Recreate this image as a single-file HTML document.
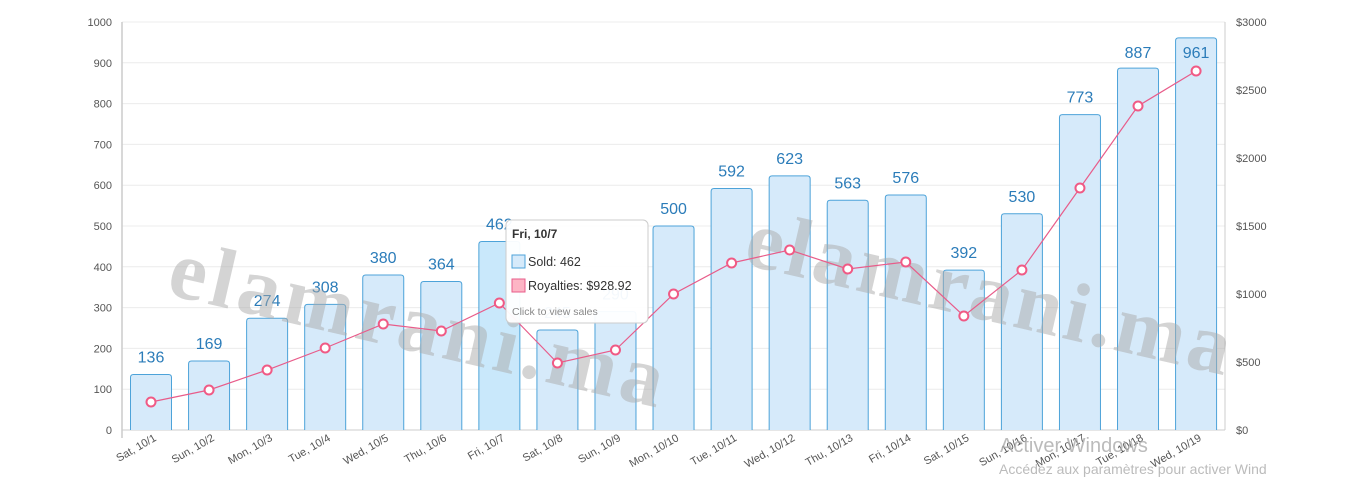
<!DOCTYPE html>
<html><head><meta charset="utf-8"><style>
html,body{margin:0;padding:0;background:#fff;width:1366px;height:494px;overflow:hidden}
svg{display:block;font-family:"Liberation Sans",sans-serif}
</style></head><body>
<svg id="s" width="1366" height="494" xmlns="http://www.w3.org/2000/svg"></svg>
<script>
var s=document.getElementById('s'),h='';
var T=22,B=430,L=122,R=1225;
for(var i=0;i<=10;i++){var y=B-i*40.8;
 h+='<line x1="'+L+'" x2="'+R+'" y1="'+y+'" y2="'+y+'" stroke="#ececec"/>';
 h+='<text x="112" y="'+(y+4)+'" font-size="11" fill="#555" text-anchor="end">'+(i*100)+'</text>';}
for(var i=0;i<=6;i++){var y=B-i*68;
 h+='<text x="1236" y="'+(y+4)+'" font-size="11" fill="#555">$'+(i==0?'0':(i*500))+'</text>';}
h+='<line x1="'+L+'" x2="'+L+'" y1="'+T+'" y2="438" stroke="#ccc" stroke-width="1.5"/>';
h+='<line x1="'+R+'" x2="'+R+'" y1="'+T+'" y2="430" stroke="#ccc"/>';
h+='<line x1="'+L+'" x2="'+R+'" y1="430" y2="430" stroke="#ccc"/>';
var v=[136,169,274,308,380,364,462,245,290,500,592,623,563,576,392,530,773,887,961];
var py=[402,390,370,348,324,331,303,363,350,294,263,250,269,262,316,270,188,106,71];
var lb=['Sat, 10/1','Sun, 10/2','Mon, 10/3','Tue, 10/4','Wed, 10/5','Thu, 10/6','Fri, 10/7','Sat, 10/8','Sun, 10/9','Mon, 10/10','Tue, 10/11','Wed, 10/12','Thu, 10/13','Fri, 10/14','Sat, 10/15','Sun, 10/16','Mon, 10/17','Tue, 10/18','Wed, 10/19'];
for(var i=0;i<19;i++){var x=151+i*58.06,y=B-v[i]*0.408;
 h+='<path d="M'+(x-20.5)+' 430 V'+(y+3)+' q0 -3 3 -3 h35 q3 0 3 3 V430" fill="'+(i==6?'#c9e8fb':'#d6eafa')+'" stroke="#4da3d9" stroke-width="1"/>';
 h+='<text x="'+x+'" y="'+Math.max(y-12,58)+'" font-size="16" fill="#2b7cb9" text-anchor="middle">'+v[i]+'</text>';
 h+='<text transform="translate('+(x+6)+',440) rotate(-30)" font-size="11" fill="#555" text-anchor="end">'+lb[i]+'</text>';}
h+='<text transform="translate(165,294) rotate(13)" font-family="Liberation Serif,serif" font-weight="bold" font-size="84" fill="#aaa" fill-opacity="0.5" letter-spacing="5">elamrani.ma</text>';
h+='<text transform="translate(742,264) rotate(13)" font-family="Liberation Serif,serif" font-weight="bold" font-size="84" fill="#aaa" fill-opacity="0.5" letter-spacing="4">elamrani.ma</text>';
var pts='';for(var i=0;i<19;i++)pts+=(151+i*58.06)+','+py[i]+' ';
h+='<polyline points="'+pts+'" fill="none" stroke="#e85c8a" stroke-width="1.2"/>';
for(var i=0;i<19;i++)h+='<circle cx="'+(151+i*58.06)+'" cy="'+py[i]+'" r="4.5" fill="#fff" stroke="#f05a85" stroke-width="2"/>';
h+='<rect x="506" y="220" width="142" height="103" rx="5" fill="#fff" fill-opacity="0.95" stroke="#ccc"/>';
h+='<text x="512" y="238" font-size="12" font-weight="bold" fill="#333">Fri, 10/7</text>';
h+='<rect x="512" y="255" width="13" height="13" fill="#d6eafa" stroke="#4da3d9"/><text x="528" y="266" font-size="12.5" fill="#333">Sold: 462</text>';
h+='<rect x="512" y="279" width="13" height="13" fill="#fdb5c5" stroke="#e85c8a"/><text x="528" y="290" font-size="12.5" fill="#333">Royalties: $928.92</text>';
h+='<text x="512" y="315" font-size="10.5" fill="#888">Click to view sales</text>';
h+='<text x="1000" y="452" font-size="20" fill="#aaa" fill-opacity="0.8">Activer Windows</text>';
h+='<text x="999" y="474" font-size="14" fill="#aaa" fill-opacity="0.8">Accédez aux paramètres pour activer Wind</text>';
s.innerHTML=h;
</script>
</body></html>
